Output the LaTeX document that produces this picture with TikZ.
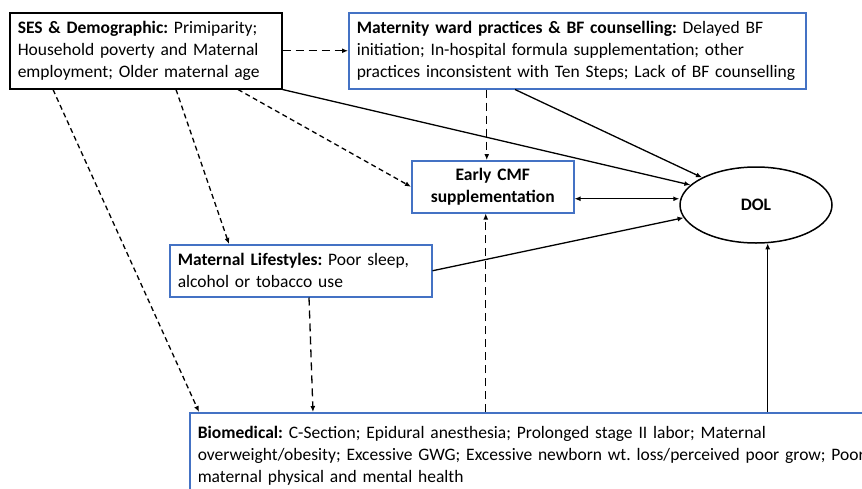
\documentclass[tikz,border=0pt]{standalone}
\usepackage{fontspec}
\setmainfont{Carlito}
\usetikzlibrary{arrows.meta,calc,shapes.geometric}
\definecolor{boxblue}{RGB}{68,114,196}
\frenchspacing

\begin{document}
\begin{tikzpicture}[x=1pt,y=-1pt,
  every node/.style={font=\fontsize{17.5}{22}\selectfont},
  factor/.style={draw=boxblue,line width=1.5pt,align=left,inner xsep=8pt,anchor=north west},
  longdash/.style={dash pattern=on 8pt off 5pt},
  shortdash/.style={dash pattern=on 5pt off 3.5pt},
  arr/.style={line width=1.3pt,-{Latex[length=6pt,width=5pt]}}]
\path[use as bounding box,clip] (0,0) rectangle (862,488);
% boxes
\node[factor,draw=black,text width=256pt,minimum height=76pt] (ses) at (9,12)
  {\textbf{SES \& Demographic:} Primiparity;\\Household poverty and Maternal\\employment; Older maternal age};
\node[factor,text width=441pt,minimum height=76pt] (mat) at (348,12)
  {\textbf{Maternity ward practices \& BF counselling:} Delayed BF\\initiation; In-hospital formula supplementation; other\\practices inconsistent with Ten Steps; Lack of BF counselling};
\node[factor,align=center,text width=146pt,minimum height=52pt] (cmf) at (411,160)
  {\textbf{Early CMF}\\\textbf{supplementation}};
\node[factor,text width=246pt,minimum height=52pt] (life) at (169,244)
  {\textbf{Maternal Lifestyles:} Poor sleep,\\alcohol or tobacco use};
\node[factor,text width=684pt,minimum height=86pt] (bio) at (189,412)
  {\textbf{Biomedical:} C-Section; Epidural anesthesia; Prolonged stage II labor; Maternal\\overweight/obesity; Excessive GWG; Excessive newborn wt. loss/perceived poor grow; Poor\\maternal physical and mental health};
\node[draw,ellipse,line width=1.5pt,minimum width=152pt,minimum height=76pt,inner sep=0pt] (dol) at (756,205)
  {\textbf{DOL}};
% dashed paths
\draw[arr,longdash] (ses.east) -- (mat.west);
\draw[arr,shortdash] ([xshift=44]ses.south west) -- ([xshift=10]bio.north west);
\draw[arr,shortdash] ([xshift=167]ses.south west) -- ([xshift=60]life.north west);
\draw[arr,shortdash] ([xshift=229]ses.south west) -- (cmf.west);
\draw[arr,longdash] ([xshift=-6]cmf.north |- mat.south) -- ([xshift=-6]cmf.north);
\draw[arr,longdash] ([xshift=140]life.south west) -- ([xshift=124]bio.north west);
\draw[arr,longdash] ([xshift=-7]cmf.south |- bio.north) -- ([xshift=-7]cmf.south);
% solid paths to DOL
\draw[arr] (ses.south east) -- (dol.163);
\draw[arr] ([xshift=167]mat.south west) -- (dol.153);
\draw[arr,{Latex[length=6pt,width=5pt]}-{Latex[length=6pt,width=5pt]}] ([yshift=-12]cmf.east) -- ([yshift=-12]cmf.east -| dol.west);
\draw[arr] (life.east) -- (dol.190);
\draw[arr] (dol.287 |- bio.north) -- (dol.287);
\end{tikzpicture}
\end{document}
